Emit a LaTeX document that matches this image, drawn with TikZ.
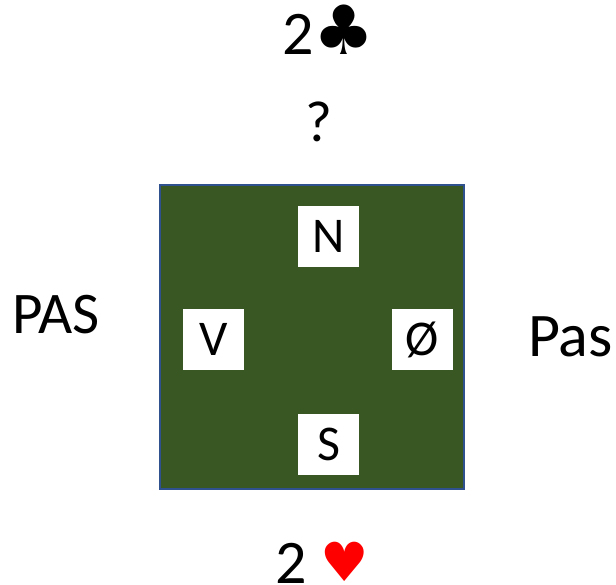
\documentclass[tikz,border=0pt]{standalone}
\usepackage{fontspec}
\setmainfont{Carlito}
\newfontfamily\suitfont{DejaVu Sans}
\usetikzlibrary{positioning}
\definecolor{felt}{HTML}{385723}
\definecolor{rim}{HTML}{2F528F}
\definecolor{heartred}{HTML}{FF0000}
\tikzset{seat/.style={fill=white, minimum size=61pt, inner sep=0pt,
    font=\fontsize{50}{50}\selectfont},
  bid/.style={inner sep=0pt, anchor=base west},
  }

\begin{document}
\begin{tikzpicture}[x=1pt,y=-1pt]
	\useasboundingbox (0,0) rectangle (616,585);
	% table
	\node[draw=rim, line width=1.5pt, fill=felt, minimum size=304pt, inner sep=0pt] (table) at (312,337) {};
	% seats
	\node[seat] (N) at (328.5,236.5) {N};
	\node[seat] (V) at (213.5,339.5) {V};
	\node[seat] (O) at (422.5,339.5) {Ø};
	\node[seat] (S) at (328.5,444.5) {S};
	% bids
	\node[bid, font=\fontsize{62}{62}\selectfont] (north) at (282,55) {2{\suitfont\fontsize{68}{68}\selectfont ♣}};
	\node[bid, font=\fontsize{58}{58}\selectfont] (ask) at (305,142) {?};
	\node[bid, font=\fontsize{59}{59}\selectfont] (west) at (12,334) {PAS};
	\node[bid, font=\fontsize{62}{62}\selectfont] (east) at (528,357) {Pas};
	\node[bid, font=\fontsize{62}{62}\selectfont] (south) at (275,583) {2 \raisebox{2pt}{\suitfont\fontsize{54}{54}\selectfont\color{heartred}♥}};
\end{tikzpicture}
\end{document}
